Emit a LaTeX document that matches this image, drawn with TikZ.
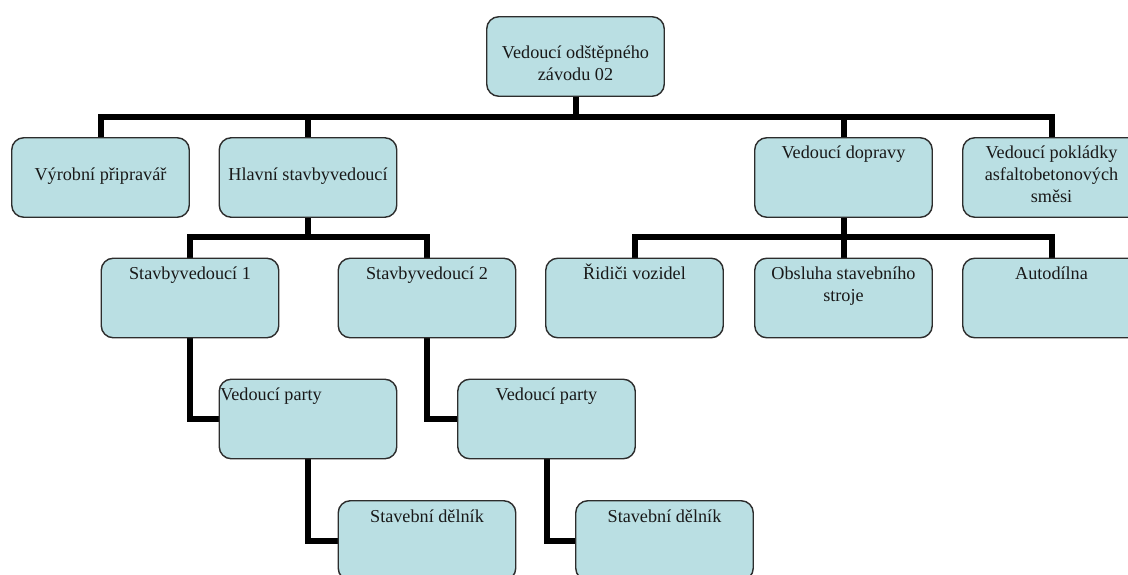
\documentclass[tikz,border=0pt]{standalone}
\usepackage{fontspec}
\setmainfont{Liberation Serif}
\usepackage{xcolor}
\definecolor{boxfill}{RGB}{186,223,227}
\definecolor{boxline}{RGB}{45,45,45}
\usetikzlibrary{positioning,backgrounds}
\pgfdeclarelayer{background}
\pgfsetlayers{background,main}
\tikzset{
   orgbox/.style={draw=boxline, fill=boxfill, line width=1.4pt, rectangle,
                  rounded corners=12pt, minimum width=177.5pt, minimum height=79.5pt, inner sep=0pt},
   boxtext/.style={anchor=base, align=center, inner sep=0pt, text=black!90,
                   font=\fontsize{18.2}{22}\selectfont},
   conn/.style={line width=6pt, black}
}

\begin{document}
\begin{tikzpicture}[x=1pt, y=-1pt]
\useasboundingbox (0,0) rectangle (1128,575);
\clip (0,0) rectangle (1128,575);
% boxes
\node[orgbox] (top) at (575.5,56.5) {};
\node[orgbox] (vyr) at (100.5,177.5) {};
\node[orgbox] (hsv) at (308,177.5) {};
\node[orgbox] (vdo) at (843.5,177.5) {};
\node[orgbox] (vpo) at (1051.5,177.5) {};
\node[orgbox] (sv1) at (190,298) {};
\node[orgbox] (sv2) at (427,298) {};
\node[orgbox] (rid) at (634.5,298) {};
\node[orgbox] (obs) at (843.5,298) {};
\node[orgbox] (aut) at (1051.5,298) {};
\node[orgbox] (vp1) at (308,419) {};
\node[orgbox] (vp2) at (546.5,419) {};
\node[orgbox] (sd1) at (427,540.5) {};
\node[orgbox] (sd2) at (664.5,540.5) {};
% texts (base = last line)
\node[boxtext] (top-t) at ([yshift=-64pt]top.north) {Vedoucí odštěpného\\závodu 02};
\node[boxtext] (vyr-t) at ([yshift=-43.5pt]vyr.north) {Výrobní připravář};
\node[boxtext] (hsv-t) at ([yshift=-43.5pt]hsv.north) {Hlavní stavbyvedoucí};
\node[boxtext] (vdo-t) at ([yshift=-21.5pt]vdo.north) {Vedoucí dopravy};
\node[boxtext] (vpo-t) at ([yshift=-65.5pt]vpo.north) {Vedoucí pokládky\\asfaltobetonových\\směsi};
\node[boxtext] (sv1-t) at ([yshift=-22pt]sv1.north) {Stavbyvedoucí 1};
\node[boxtext] (sv2-t) at ([yshift=-22pt]sv2.north) {Stavbyvedoucí 2};
\node[boxtext] (rid-t) at ([yshift=-22pt]rid.north) {Řidiči vozidel};
\node[boxtext] (obs-t) at ([yshift=-44pt]obs.north) {Obsluha stavebního\\stroje};
\node[boxtext] (aut-t) at ([yshift=-22pt]aut.north) {Autodílna};
\node[boxtext, anchor=base west] (vp1-t) at ([xshift=1.5pt,yshift=-22pt]vp1.north west) {Vedoucí party};
\node[boxtext] (vp2-t) at ([yshift=-22pt]vp2.north) {Vedoucí party};
\node[boxtext] (sd1-t) at ([yshift=-22pt]sd1.north) {Stavební dělník};
\node[boxtext] (sd2-t) at ([yshift=-22pt]sd2.north) {Stavební dělník};
% connectors
\begin{pgfonlayer}{background}
\draw[conn] (top.south) -- ++(0,-20pt) -| (vyr.north);
\draw[conn] (top.south) -- ++(0,-20pt) -| (hsv.north);
\draw[conn] (top.south) -- ++(0,-20pt) -| (vdo.north);
\draw[conn] (top.south) -- ++(0,-20pt) -| (vpo.north);
\draw[conn] (hsv.south) -- ++(0,-19.5pt) -| (sv1.north);
\draw[conn] (hsv.south) -- ++(0,-19.5pt) -| (sv2.north);
\draw[conn] (vdo.south) -- ++(0,-19.5pt) -| (rid.north);
\draw[conn] (vdo.south) -- ++(0,-19.5pt) -| (obs.north);
\draw[conn] (vdo.south) -- ++(0,-19.5pt) -| (aut.north);
\draw[conn] (sv1.south) |- (vp1.west);
\draw[conn] (sv2.south) |- (vp2.west);
\draw[conn] (vp1.south) |- (sd1.west);
\draw[conn] (vp2.south) |- (sd2.west);
\end{pgfonlayer}
\end{tikzpicture}
\end{document}
